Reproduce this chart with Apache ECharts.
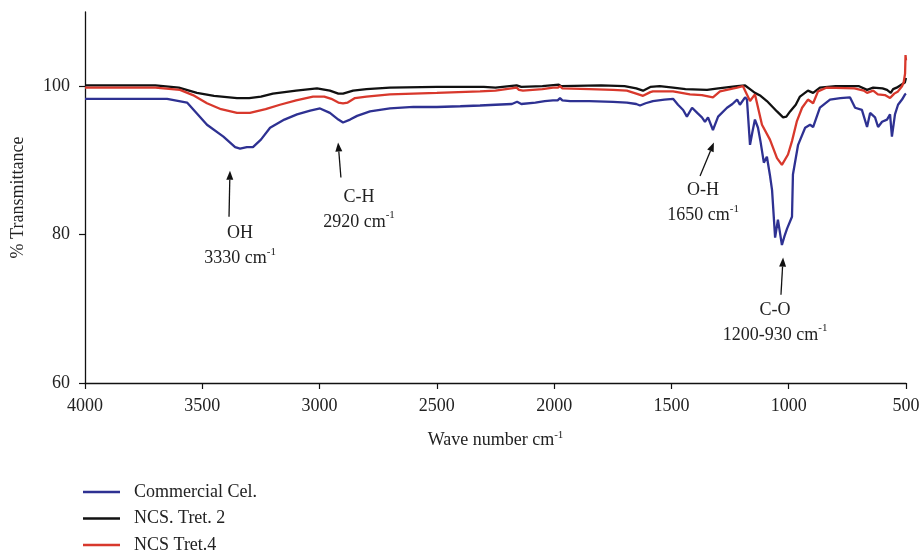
<!DOCTYPE html>
<html>
<head>
<meta charset="utf-8">
<script src="https://cdn.jsdelivr.net/npm/echarts@6/dist/echarts.min.js"></script>
<style>html,body{margin:0;padding:0;background:#fff}#c{width:924px;height:554px}</style>
</head>
<body>
<div id="c"></div>
<script>
const seriesNames = ['Commercial Cel.', 'NCS. Tret. 2', 'NCS Tret.4'];
const seriesColors = ['#2e3192', '#111111', '#d8382c'];

const commercial = [[4000,98.3],[3800,98.3],[3650,98.3],[3565,97.8],[3480,94.8],[3410,93.2],[3360,91.8],[3339,91.6],[3310,91.8],[3284,91.8],[3250,92.8],[3211,94.4],[3150,95.5],[3096,96.2],[3040,96.7],[2998,97.0],[2956,96.4],[2920,95.5],[2900,95.1],[2870,95.5],[2840,96.0],[2785,96.6],[2700,97.0],[2600,97.2],[2500,97.2],[2400,97.3],[2316,97.4],[2250,97.5],[2180,97.6],[2158,97.9],[2140,97.6],[2133,97.6],[2080,97.8],[2040,98.0],[2005,98.1],[1985,98.1],[1975,98.4],[1965,98.1],[1932,98.0],[1850,98.0],[1749,97.9],[1690,97.8],[1650,97.6],[1634,97.4],[1610,97.7],[1579,98.0],[1530,98.2],[1493,98.3],[1472,97.5],[1450,96.8],[1434,95.9],[1412,97.1],[1390,96.4],[1370,95.8],[1357,95.2],[1344,95.8],[1323,94.1],[1301,95.9],[1263,97.1],[1240,97.6],[1220,98.2],[1208,97.5],[1186,98.5],[1178,98.2],[1165,92.1],[1155,93.8],[1144,95.5],[1131,94.4],[1120,92.5],[1106,89.7],[1093,90.5],[1080,88.0],[1071,86.0],[1058,79.6],[1046,82.0],[1036,80.0],[1029,78.6],[1018,79.8],[1007,80.8],[986,82.4],[982,88.1],[960,92.1],[930,94.4],[909,94.8],[896,94.5],[867,97.1],[824,98.2],[780,98.4],[739,98.5],[717,97.1],[688,96.8],[666,94.5],[653,96.4],[632,95.8],[619,94.5],[602,95.2],[581,95.5],[568,96.2],[560,93.2],[547,96.2],[534,97.5],[517,98.2],[504,98.9],[500,99.0]];

const tret2 = [[4000,100.1],[3700,100.1],[3600,99.8],[3523,99.1],[3450,98.7],[3352,98.4],[3300,98.4],[3250,98.6],[3199,99.0],[3100,99.4],[3011,99.7],[2956,99.4],[2920,99.0],[2900,99.0],[2857,99.4],[2800,99.6],[2700,99.8],[2500,99.9],[2300,99.9],[2250,99.8],[2160,100.1],[2140,99.9],[2050,100.0],[1980,100.2],[1970,100.0],[1800,100.1],[1700,100.0],[1650,99.7],[1621,99.4],[1590,99.9],[1550,100.0],[1493,99.8],[1440,99.6],[1348,99.5],[1300,99.7],[1220,100.0],[1186,100.1],[1165,99.6],[1144,99.1],[1120,98.7],[1093,98.0],[1050,96.6],[1024,95.8],[1010,95.9],[994,96.6],[970,97.5],[952,98.6],[918,99.4],[896,99.1],[867,99.8],[800,100.0],[700,100.0],[666,99.5],[640,99.8],[600,99.7],[581,99.5],[565,99.1],[555,99.6],[540,99.8],[520,100.2],[505,100.5],[500,101.1]];

const tret4 = [[4000,99.8],[3700,99.8],[3595,99.5],[3540,98.8],[3480,97.7],[3420,96.9],[3352,96.4],[3297,96.4],[3230,96.9],[3169,97.5],[3100,98.1],[3028,98.6],[2980,98.6],[2950,98.3],[2920,97.8],[2900,97.7],[2880,97.8],[2849,98.4],[2800,98.6],[2700,98.9],[2500,99.1],[2316,99.3],[2250,99.4],[2160,99.8],[2150,99.5],[2133,99.4],[2050,99.6],[2005,99.8],[1985,99.8],[1975,100.0],[1965,99.7],[1850,99.6],[1749,99.5],[1690,99.4],[1650,99.0],[1621,98.7],[1590,99.2],[1579,99.3],[1493,99.3],[1421,98.9],[1370,98.8],[1323,98.5],[1293,99.3],[1220,99.8],[1195,100.0],[1165,98.0],[1144,98.9],[1114,94.8],[1080,92.8],[1050,90.3],[1029,89.4],[1003,90.8],[986,92.6],[965,95.3],[943,97.1],[918,98.2],[896,97.7],[875,99.3],[840,99.8],[720,99.7],[680,99.4],[666,99.1],[640,99.4],[620,98.9],[590,98.8],[568,98.4],[550,99.0],[534,99.3],[517,100.0],[510,100.5],[504,101.7],[502,104.2],[500,103.5]];

const xTicks = {min: 500, max: 4000, interval: 500};
const yTicks = {min: 60, max: 110, interval: 20};

// annotation anchors in data coordinates [wavenumber, %T]
const annHeads = [[3382, 88.6], [2921, 92.4], [1319, 92.4], [1024, 76.9]];
const annTails = [[3386, 82.4], [2909, 87.7], [1378, 87.9], [1033, 71.9]];
const annTextAt = [[3339, 81.8], [2832, 86.7], [1365, 87.6], [1058, 71.5]];
const annLabels = ['OH', 'C-H', 'O-H', 'C-O'];
const annBands = ['3330 cm', '2920 cm', '1650 cm', '1200-930 cm'];

const FONT = '"Liberation Serif", "DejaVu Serif", serif';
const chart = echarts.init(document.getElementById('c'), null, {renderer: 'canvas'});

const dataSets = [commercial, tret2, tret4];
chart.setOption({
  animation: false,
  backgroundColor: '#fff',
  grid: {left: 85, right: 18, top: 12, bottom: 171, containLabel: false},
  xAxis: {
    type: 'value', inverse: true, min: xTicks.min, max: xTicks.max, interval: xTicks.interval,
    axisLine: {onZero: false, lineStyle: {color: '#111', width: 1.3}},
    axisTick: {show: true, inside: false, length: 6, lineStyle: {color: '#111', width: 1.2}},
    axisLabel: {color: '#222', fontFamily: FONT, fontSize: 18, margin: 14, formatter: v => String(v)},
    splitLine: {show: false},
    name: '{a|Wave number cm}{s|-1}',
    nameLocation: 'middle', nameGap: 47,
    nameTextStyle: {rich: {
      a: {fontFamily: FONT, fontSize: 18, color: '#222', lineHeight: 20},
      s: {fontFamily: FONT, fontSize: 11, color: '#222', verticalAlign: 'top', lineHeight: 14}
    }}
  },
  yAxis: {
    type: 'value', min: yTicks.min, max: yTicks.max, interval: yTicks.interval,
    axisLine: {show: true, onZero: false, lineStyle: {color: '#111', width: 1.3}},
    axisTick: {show: true, inside: false, length: 6, lineStyle: {color: '#111', width: 1.2}},
    axisLabel: {color: '#222', fontFamily: FONT, fontSize: 18, margin: 15, showMaxLabel: false, formatter: v => String(v)},
    splitLine: {show: false},
    name: '% Transmittance', nameLocation: 'middle', nameGap: 58, nameRotate: 90,
    nameTextStyle: {fontFamily: FONT, fontSize: 18, color: '#222'}
  },
  legend: {
    orient: 'vertical', left: 83, top: 483, padding: 0, itemGap: 8.5,
    icon: 'rect', itemWidth: 37, itemHeight: 2.5,
    textStyle: {fontFamily: FONT, fontSize: 18, color: '#222', lineHeight: 18, padding: [0, 0, 0, 9]},
    data: seriesNames
  },
  series: dataSets.map((d, i) => ({
    name: seriesNames[i], type: 'line', data: d, showSymbol: false, symbol: 'none',
    lineStyle: {color: seriesColors[i], width: 2.3}, itemStyle: {color: seriesColors[i]},
    z: [2, 3, 4][i]
  }))
});

const graphics = [];
annHeads.forEach((h, i) => {
  const hp = chart.convertToPixel({gridIndex: 0}, h);
  const tp = chart.convertToPixel({gridIndex: 0}, annTails[i]);
  const xp = chart.convertToPixel({gridIndex: 0}, annTextAt[i]);
  const dx = hp[0] - tp[0], dy = hp[1] - tp[1];
  const len = Math.sqrt(dx * dx + dy * dy);
  const ux = dx / len, uy = dy / len;
  const aL = 9, aW = 3.5;
  const bx = hp[0] - ux * aL, by = hp[1] - uy * aL;
  graphics.push({type: 'line', shape: {x1: tp[0], y1: tp[1], x2: bx, y2: by}, style: {stroke: '#111', lineWidth: 1.3}, z: 10});
  graphics.push({type: 'polygon', shape: {points: [[hp[0], hp[1]], [bx - uy * aW, by + ux * aW], [bx + uy * aW, by - ux * aW]]}, style: {fill: '#111'}, z: 10});
  graphics.push({type: 'text', x: xp[0], y: xp[1], z: 10, style: {
    text: '{t|' + annLabels[i] + '}\n{t|' + annBands[i] + '}{s|-1}',
    align: 'center', verticalAlign: 'top',
    rich: {
      t: {fontFamily: FONT, fontSize: 18, fill: '#222', lineHeight: 25},
      s: {fontFamily: FONT, fontSize: 11, fill: '#222', verticalAlign: 'top', lineHeight: 18}
    }
  }});
});
chart.setOption({graphic: graphics});
</script>
</body>
</html>
